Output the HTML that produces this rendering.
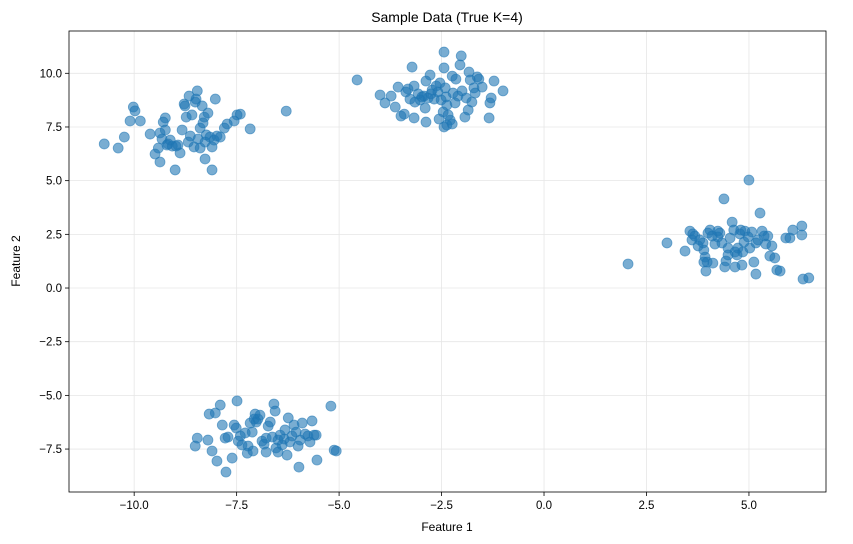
<!DOCTYPE html>
<html><head><meta charset="utf-8"><style>
body{margin:0;background:#fff;}
svg{display:block;font-family:"Liberation Sans","Noto Sans CJK JP",sans-serif;}
</style></head><body>
<svg id="chart" width="853" height="544">
<rect width="853" height="544" fill="#fff"/>
<text x="447" y="22" text-anchor="middle" font-size="14" fill="#000">Sample Data (True K=4)</text>
<text x="447" y="531" text-anchor="middle" font-size="12" fill="#000">Feature 1</text>
<text x="20" y="261" text-anchor="middle" font-size="12" fill="#000" transform="rotate(-90 20 261)">Feature 2</text>
<g id="grid"></g><g id="pts"></g><g id="axes"></g>
</svg>
<script>
const xTicks=[-10,-7.5,-5,-2.5,0,2.5,5];
const xTickLabels=["−10.0","−7.5","−5.0","−2.5","0.0","2.5","5.0"];
const yTicks=[-7.5,-5,-2.5,0,2.5,5,7.5,10];
const yTickLabels=["−7.5","−5.0","−2.5","0.0","2.5","5.0","7.5","10.0"];
const xs=[
-10.73,-10.39,-10.24,-10.10,-10.02,-9.98,-9.85,-9.61,-9.49,-9.41,-9.37,-9.32,-9.29,-9.24,-9.24,-9.20,-9.17,-9.12,-9.00,-8.98,-8.93,-8.88,-8.83,-8.78,-8.76,-8.73,-8.68,-8.66,-8.63,-8.59,-8.51,-8.49,-8.46,-8.44,-8.39,-8.34,-8.32,-8.29,-8.27,-8.24,-8.20,-8.15,-8.10,-8.10,-8.05,-8.02,-7.98,-7.90,-7.80,-7.73,-7.56,-7.49,-7.41,-7.17,-6.29,-9.37,-9.07,-8.54,-8.39,-8.27,
-4.56,-4.00,-3.88,-3.73,-3.63,-3.56,-3.49,-3.41,-3.37,-3.32,-3.27,-3.22,-3.17,-3.15,-3.07,-3.02,-2.98,-2.93,-2.90,-2.88,-2.83,-2.78,-2.76,-2.73,-2.68,-2.63,-2.59,-2.54,-2.51,-2.46,-2.44,-2.41,-2.39,-2.37,-2.34,-2.29,-2.24,-2.22,-2.17,-2.15,-2.10,-2.05,-2.00,-1.93,-1.90,-1.85,-1.83,-1.80,-1.76,-1.71,-1.68,-1.63,-1.59,-1.51,-1.34,-1.32,-1.29,-1.22,-1.00,-2.44,-2.02,-2.44,-2.37,-2.24,-2.88,-3.17,-2.56,
2.05,3.00,3.44,3.56,3.61,3.63,3.68,3.76,3.80,3.88,3.90,3.93,3.95,3.98,4.00,4.05,4.10,4.17,4.24,4.29,4.34,4.39,4.41,4.44,4.49,4.54,4.59,4.63,4.66,4.71,4.73,4.78,4.83,4.88,4.90,4.98,5.00,5.02,5.07,5.12,5.17,5.22,5.27,5.32,5.37,5.41,5.46,5.51,5.56,5.63,5.68,5.76,5.90,6.00,6.07,6.29,6.29,6.32,6.46,4.66,4.85,4.49,4.12,3.90,4.24,4.80,5.17,
-8.51,-8.46,-8.20,-8.17,-8.10,-8.02,-7.98,-7.90,-7.85,-7.78,-7.76,-7.71,-7.61,-7.56,-7.51,-7.49,-7.46,-7.41,-7.37,-7.29,-7.24,-7.22,-7.17,-7.12,-7.07,-7.05,-7.02,-6.98,-6.93,-6.88,-6.83,-6.78,-6.73,-6.68,-6.63,-6.59,-6.56,-6.54,-6.49,-6.44,-6.39,-6.34,-6.32,-6.27,-6.24,-6.20,-6.15,-6.10,-6.05,-6.00,-5.98,-5.95,-5.90,-5.83,-5.76,-5.71,-5.66,-5.61,-5.56,-5.54,-5.20,-5.12,-5.07,-7.10,-6.78,-6.49];
const ys=[
6.71,6.52,7.03,7.78,8.43,8.25,7.78,7.17,6.24,6.52,5.87,6.94,7.73,7.92,7.36,6.66,6.71,6.89,5.50,6.61,6.66,6.29,7.36,8.57,8.48,7.96,6.80,8.94,7.08,8.06,8.66,8.80,9.18,6.94,7.45,8.48,7.69,7.96,6.01,7.13,8.15,7.03,6.57,5.50,6.89,8.80,7.08,7.03,7.45,7.64,7.78,8.06,8.10,7.41,8.24,7.22,6.61,6.57,6.52,6.80,
9.69,8.99,8.62,8.94,8.43,9.36,8.01,8.10,9.13,9.27,8.80,10.29,9.41,8.66,9.04,8.76,8.90,8.94,8.38,9.64,8.85,9.92,9.04,9.22,8.80,9.41,9.13,9.55,8.76,8.20,10.25,9.32,8.90,8.52,8.06,7.82,9.87,9.08,8.62,9.73,8.94,10.39,9.18,7.96,8.85,8.29,10.06,9.69,8.66,9.32,9.08,9.83,9.73,9.36,7.92,8.62,8.85,9.64,9.18,10.99,10.81,7.50,7.59,7.64,7.73,7.92,7.87,
1.12,2.10,1.72,2.65,2.24,2.52,2.42,1.96,2.24,2.10,1.77,1.44,0.79,1.21,2.56,2.70,2.42,2.05,2.65,2.56,2.10,4.15,0.98,1.26,1.54,2.33,3.07,2.70,0.98,1.54,1.86,2.52,1.07,2.14,2.65,2.38,5.03,1.86,2.61,1.21,0.65,2.24,3.49,2.65,2.42,2.05,2.42,1.49,1.96,1.40,0.84,0.79,2.33,2.33,2.70,2.89,2.47,0.42,0.47,1.68,1.68,1.86,1.16,1.21,2.38,2.70,2.10,
-7.36,-6.99,-7.08,-5.87,-7.59,-5.82,-8.06,-5.45,-6.38,-6.99,-8.57,-6.94,-7.92,-6.38,-6.52,-5.26,-7.13,-6.89,-7.31,-6.75,-7.69,-7.36,-6.29,-6.71,-6.10,-5.87,-6.24,-6.10,-5.92,-7.13,-7.27,-6.99,-6.43,-6.24,-6.94,-5.40,-5.73,-7.45,-7.08,-6.85,-7.31,-7.03,-6.61,-7.78,-6.05,-7.17,-6.89,-6.38,-6.71,-7.36,-8.34,-7.08,-6.29,-6.80,-6.89,-7.17,-6.19,-6.85,-6.85,-8.01,-5.50,-7.55,-7.59,-7.59,-7.64,-7.64];
const NS="http://www.w3.org/2000/svg";
const L=69,R=826,T=31,B=492;
const xMin=-11.59,xMax=6.88,yMin=-9.50,yMax=11.97;
function sx(v){return L+(v-xMin)/(xMax-xMin)*(R-L);}
function sy(v){return B-(v-yMin)/(yMax-yMin)*(B-T);}
function mk(tag,attrs,parent){const e=document.createElementNS(NS,tag);for(const k in attrs)e.setAttribute(k,attrs[k]);parent.appendChild(e);return e;}
const grid=document.getElementById('grid'),pts=document.getElementById('pts'),axes=document.getElementById('axes');
xTicks.forEach((t,i)=>{const x=sx(t);
const g=mk('line',{x1:x,x2:x,y1:T,y2:B,stroke:'#e6e6e6','stroke-width':0.8},grid);


const tk=mk('line',{x1:x,x2:x,y1:B,y2:B+4,stroke:'#000','stroke-width':0.8},axes);


const tx=mk('text',{x:x,y:B+17,'text-anchor':'middle','font-size':11.5,fill:'#000'},axes);tx.textContent=xTickLabels[i];

});
yTicks.forEach((t,i)=>{const y=sy(t);
const g=mk('line',{x1:L,x2:R,y1:y,y2:y,stroke:'#e6e6e6','stroke-width':0.8},grid);


const tk=mk('line',{x1:L-4,x2:L,y1:y,y2:y,stroke:'#000','stroke-width':0.8},axes);


const tx=mk('text',{x:L-7,y:y+4,'text-anchor':'end','font-size':11.5,fill:'#000'},axes);tx.textContent=yTickLabels[i];

});
for(let i=0;i<xs.length;i++){
const c=mk('circle',{cx:sx(xs[i]),cy:sy(ys[i]),r:5,fill:'#1f77b4','fill-opacity':0.6,stroke:'#1f77b4','stroke-opacity':0.6,'stroke-width':0.8},pts);

}
const fr=mk('rect',{x:L,y:T,width:R-L,height:B-T,fill:'none',stroke:'#000','stroke-width':0.8},axes);


</script>
</body></html>
